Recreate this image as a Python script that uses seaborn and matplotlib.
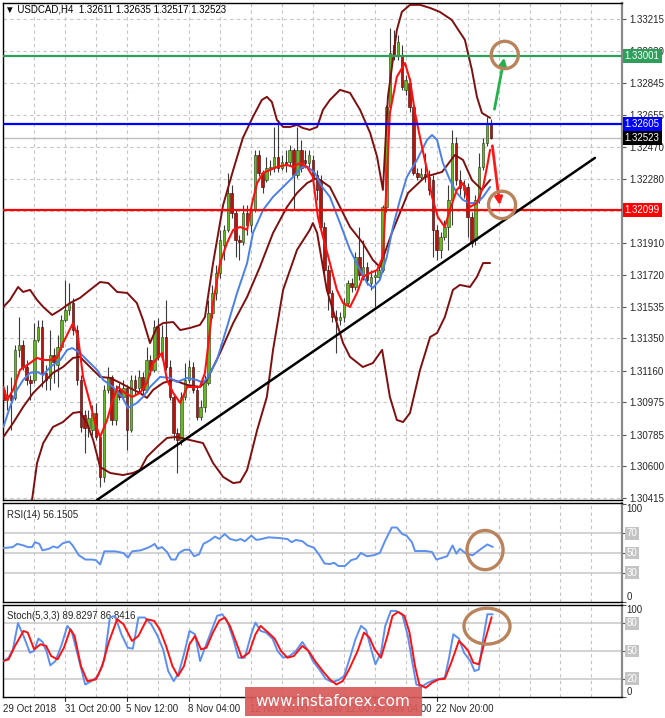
import numpy as np
import matplotlib
matplotlib.use("Agg")
import matplotlib.pyplot as plt
import seaborn as sns
from matplotlib.patches import Ellipse, Rectangle

sns.set_style("white")
plt.rcParams['font.family'] = ['Liberation Sans', 'DejaVu Sans']

# ---------------- data: USDCAD H4 candles ----------------
bar_open = [1.31048, 1.30989, 1.31018, 1.31001, 1.31282, 1.31311, 1.31182, 1.31106, 1.31106, 1.31340,
            1.31416, 1.31147, 1.31118, 1.31252, 1.31194, 1.31299, 1.31457, 1.31515, 1.31556, 1.31398,
            1.31106, 1.30901, 1.30825, 1.30814, 1.30913, 1.30773, 1.30539, 1.31048, 1.31124, 1.30872,
            1.31048, 1.31007, 1.31059, 1.30814, 1.31106, 1.31059, 1.31124, 1.31048, 1.31223, 1.31165,
            1.31416, 1.31241, 1.31357, 1.31182, 1.31007, 1.30796, 1.30755, 1.31007, 1.31106, 1.31182,
            1.31048, 1.30890, 1.30948, 1.31089, 1.31498, 1.31615, 1.31732, 1.31896, 1.31984, 1.32200,
            1.32083, 1.31925, 1.31913, 1.32083, 1.32013, 1.32100, 1.32422, 1.32317, 1.32276, 1.32346,
            1.32346, 1.32411, 1.32346, 1.32381, 1.32381, 1.32452, 1.32305, 1.32452, 1.32393, 1.32376,
            1.32393, 1.32305, 1.32276, 1.32001, 1.31749, 1.31615, 1.31474, 1.31457, 1.31474, 1.31556,
            1.31673, 1.31650, 1.31826, 1.31720, 1.31767, 1.31673, 1.31709, 1.31709, 1.31749, 1.32118,
            1.32703, 1.33066, 1.33007, 1.33007, 1.32803, 1.32843, 1.32703, 1.32317, 1.32294, 1.32311,
            1.32294, 1.32276, 1.31984, 1.31867, 1.31943, 1.32001, 1.32159, 1.32492, 1.32276, 1.32218,
            1.32235, 1.32059, 1.31925, 1.32159, 1.32352, 1.32492, 1.32611]
bar_high = [1.31077, 1.31077, 1.31124, 1.31311, 1.31474, 1.31340, 1.31223, 1.31135, 1.31439, 1.31457,
            1.31457, 1.31194, 1.31398, 1.31293, 1.31369, 1.31486, 1.31691, 1.31673, 1.31586, 1.31428,
            1.31135, 1.30930, 1.30930, 1.30960, 1.30972, 1.30784, 1.31077, 1.31182, 1.31135, 1.31077,
            1.31089, 1.31106, 1.31077, 1.31135, 1.31135, 1.31165, 1.31153, 1.31299, 1.31252, 1.31457,
            1.31469, 1.31428, 1.31574, 1.31223, 1.31018, 1.30825, 1.31036, 1.31205, 1.31223, 1.31211,
            1.31077, 1.30989, 1.31135, 1.31574, 1.31662, 1.31779, 1.31984, 1.32013, 1.32317, 1.32247,
            1.32100, 1.31954, 1.32130, 1.32130, 1.32130, 1.32452, 1.32452, 1.32334, 1.32411, 1.32393,
            1.32586, 1.32627, 1.32422, 1.32452, 1.32481, 1.32463, 1.32586, 1.32510, 1.32452, 1.32452,
            1.32422, 1.32334, 1.32305, 1.32030, 1.31779, 1.31633, 1.31515, 1.31504, 1.31586, 1.31691,
            1.31703, 1.31855, 1.32001, 1.31925, 1.31796, 1.31749, 1.31749, 1.31779, 1.32130, 1.32715,
            1.33165, 1.33153, 1.33124, 1.33066, 1.32890, 1.32873, 1.32715, 1.32346, 1.32346, 1.32434,
            1.32334, 1.32305, 1.32013, 1.31972, 1.32042, 1.32247, 1.32569, 1.32527, 1.32334, 1.32276,
            1.32258, 1.32089, 1.32188, 1.32434, 1.32522, 1.32645, 1.32635]
bar_low = [1.30930, 1.30930, 1.30814, 1.30989, 1.31241, 1.31165, 1.31077, 1.30989, 1.31089, 1.31328,
           1.31065, 1.31048, 1.31048, 1.31089, 1.31065, 1.31282, 1.31445, 1.31486, 1.31369, 1.31077,
           1.30802, 1.30679, 1.30773, 1.30784, 1.30755, 1.30480, 1.30509, 1.31030, 1.30843, 1.30843,
           1.30989, 1.30989, 1.30697, 1.30802, 1.31018, 1.31036, 1.31018, 1.31036, 1.31135, 1.31153,
           1.31223, 1.31223, 1.31165, 1.30989, 1.30755, 1.30562, 1.30726, 1.30989, 1.31089, 1.31030,
           1.30872, 1.30872, 1.30919, 1.31077, 1.31469, 1.31574, 1.31703, 1.31808, 1.31972, 1.32054,
           1.31826, 1.31808, 1.31896, 1.31954, 1.31972, 1.32089, 1.32299, 1.32200, 1.32264, 1.32305,
           1.32323, 1.32323, 1.32334, 1.32323, 1.32364, 1.32100, 1.32288, 1.32323, 1.32346, 1.32334,
           1.32264, 1.32159, 1.31972, 1.31720, 1.31515, 1.31445, 1.31264, 1.31428, 1.31445, 1.31545,
           1.31621, 1.31633, 1.31691, 1.31691, 1.31662, 1.31633, 1.31533, 1.31691, 1.31738, 1.32089,
           1.32686, 1.32978, 1.32978, 1.32803, 1.32773, 1.32674, 1.32305, 1.32276, 1.32276, 1.32264,
           1.32188, 1.31826, 1.31808, 1.31820, 1.31925, 1.31867, 1.32013, 1.32247, 1.32188, 1.32171,
           1.31943, 1.31884, 1.31896, 1.32141, 1.32334, 1.32475, 1.32517]
bar_close = [1.30989, 1.31018, 1.30989, 1.31282, 1.31311, 1.31182, 1.31106, 1.31089, 1.31340, 1.31416,
             1.31147, 1.31106, 1.31252, 1.31211, 1.31299, 1.31457, 1.31515, 1.31556, 1.31398, 1.31106,
             1.30831, 1.30825, 1.30884, 1.30913, 1.30773, 1.30539, 1.31048, 1.31124, 1.30872, 1.31048,
             1.31007, 1.31059, 1.30814, 1.31106, 1.31059, 1.31124, 1.31048, 1.31223, 1.31165, 1.31416,
             1.31241, 1.31357, 1.31182, 1.31007, 1.30796, 1.30755, 1.31007, 1.31106, 1.31182, 1.31048,
             1.30890, 1.30948, 1.31106, 1.31498, 1.31615, 1.31732, 1.31925, 1.31984, 1.32200, 1.32083,
             1.31925, 1.31913, 1.32083, 1.32013, 1.32100, 1.32422, 1.32317, 1.32235, 1.32346, 1.32346,
             1.32411, 1.32346, 1.32381, 1.32364, 1.32452, 1.32305, 1.32452, 1.32346, 1.32376, 1.32422,
             1.32288, 1.32218, 1.32001, 1.31749, 1.31615, 1.31474, 1.31457, 1.31474, 1.31556, 1.31673,
             1.31650, 1.31826, 1.31720, 1.31767, 1.31691, 1.31709, 1.31720, 1.31749, 1.32118, 1.32703,
             1.33019, 1.33007, 1.33083, 1.32820, 1.32861, 1.32703, 1.32317, 1.32294, 1.32311, 1.32294,
             1.32218, 1.31984, 1.31867, 1.31943, 1.32001, 1.32159, 1.32492, 1.32276, 1.32229, 1.32247,
             1.32059, 1.31907, 1.32159, 1.32352, 1.32492, 1.32609, 1.32523]

# fast MA (red)
ma_fast_bar = [0, 1, 2.5, 4.3, 6.9, 8.7, 10.3, 12.1, 13.9, 15.4, 18.0, 19.3, 20.6, 22.4, 23.7, 25.0, 26.8,
               28.3, 29.6, 31.4, 33.3, 35.3, 37.1, 38.7, 41.0, 42.3, 43.9, 45.7, 47.5, 49.0, 50.8, 52.1,
               54.2, 56.0, 57.8, 59.4, 61.2, 63.0, 64.3, 65.6, 67.1, 68.9, 70.7, 73.3, 74.9, 76.7, 78.5,
               80.0, 81.3, 82.6, 84.4, 86.2, 87.8, 89.6, 91.4, 92.9, 94.8, 96.6, 98.1, 99.1, 99.9, 101.7,
               103.8, 105.1, 106.4, 108.2, 109.5, 110.8, 112.3, 114.1, 115.4, 117.2, 118.8, 119.8, 120.6,
               122.4, 124.0, 125.0, 125.8]
ma_fast = [1.31065, 1.30989, 1.31048, 1.31165, 1.31205, 1.31235, 1.31223, 1.31223, 1.31235, 1.31322,
           1.31439, 1.31357, 1.31124, 1.30972, 1.30854, 1.30773, 1.30872, 1.30989, 1.31065, 1.31030,
           1.31007, 1.31030, 1.31089, 1.31205, 1.31264, 1.31106, 1.31030, 1.30972, 1.31065, 1.31065,
           1.31065, 1.31147, 1.31556, 1.31790, 1.31907, 1.31984, 1.32001, 1.31984, 1.32141, 1.32258,
           1.32317, 1.32334, 1.32352, 1.32364, 1.32352, 1.32376, 1.32352, 1.32294, 1.32059, 1.31943,
           1.31790, 1.31633, 1.31556, 1.31533, 1.31615, 1.31709, 1.31732, 1.31749, 1.31826, 1.32276,
           1.32668, 1.32879, 1.32960, 1.32861, 1.32668, 1.32469, 1.32334, 1.32177, 1.32059, 1.32001,
           1.32100, 1.32218, 1.32258, 1.32177, 1.32118, 1.32141, 1.32235, 1.32352, 1.32452]

# slow MA (blue)
ma_slow_bar = [0, 1.7, 3.5, 5.1, 6.9, 8.7, 10.3, 12.1, 14.7, 16.5, 17.8, 19.8, 21.6, 24.2, 25.8, 28.3,
               30.7, 32.2, 34.5, 36.1, 37.9, 40.5, 43.1, 44.9, 47.5, 50.0, 51.6, 52.9, 55.2, 57.8, 60.4,
               63.0, 64.5, 67.1, 69.7, 72.3, 74.9, 77.2, 78.7, 80.5, 82.4, 84.4, 87.0, 89.6, 92.2, 94.0,
               95.5, 97.3, 99.1, 100.7, 102.5, 104.3, 106.9, 109.5, 110.8, 112.1, 113.6, 115.4, 117.2,
               118.8, 120.6, 122.4, 124.0, 125.8]
ma_slow = [1.30831, 1.30948, 1.31048, 1.31106, 1.31147, 1.31153, 1.31135, 1.31182, 1.31223, 1.31282,
           1.31293, 1.31264, 1.31223, 1.31165, 1.31106, 1.31065, 1.31007, 1.30942, 1.30972, 1.31007,
           1.31065, 1.31124, 1.31118, 1.31094, 1.31118, 1.31106, 1.31089, 1.31124, 1.31223, 1.31416,
           1.31615, 1.31790, 1.31966, 1.32100, 1.32177, 1.32235, 1.32294, 1.32352, 1.32352, 1.32317,
           1.32235, 1.32177, 1.32024, 1.31867, 1.31749, 1.31673, 1.31644, 1.31691, 1.31826, 1.32001,
           1.32159, 1.32294, 1.32393, 1.32510, 1.32539, 1.32510, 1.32376, 1.32276, 1.32200, 1.32159,
           1.32141, 1.32141, 1.32177, 1.32235]

# Bollinger bands (dark red)
bb_up_bar = [0, 1.7, 3.8, 5.1, 6.9, 8.7, 10.3, 12.6, 14.7, 17.2, 19.8, 22.4, 25.0, 27.1, 29.4, 32.0,
             34.5, 36.1, 37.9, 39.7, 41.3, 43.9, 45.7, 48.2, 50.8, 52.1, 54.2, 56.8, 59.4, 61.9, 64.5,
             66.8, 68.1, 69.4, 70.7, 72.3, 74.1, 75.9, 77.4, 79.2, 81.1, 82.6, 84.4, 87.0, 89.6, 92.2,
             94.8, 96.6, 98.1, 99.4, 101.7, 103.0, 105.1, 107.7, 110.3, 112.8, 115.9, 119.3, 121.1,
             122.4, 123.7, 125.8]
bb_up = [1.31533, 1.31574, 1.31650, 1.31621, 1.31633, 1.31574, 1.31533, 1.31486, 1.31515, 1.31556,
         1.31586, 1.31633, 1.31679, 1.31673, 1.31621, 1.31615, 1.31556, 1.31457, 1.31322, 1.31416,
         1.31439, 1.31445, 1.31398, 1.31410, 1.31428, 1.31474, 1.31790, 1.32130, 1.32334, 1.32522,
         1.32645, 1.32744, 1.32762, 1.32732, 1.32627, 1.32586, 1.32586, 1.32598, 1.32580, 1.32569,
         1.32586, 1.32686, 1.32744, 1.32803, 1.32785, 1.32686, 1.32551, 1.32411, 1.32218, 1.32762,
         1.33153, 1.33259, 1.33300, 1.33300, 1.33282, 1.33259, 1.33212, 1.33095, 1.32920, 1.32762,
         1.32668, 1.32639]
bb_mid_bar = [0, 2.5, 5.1, 7.7, 10.3, 12.8, 15.4, 18.0, 19.8, 22.4, 25.0, 27.6, 30.2, 32.7, 35.3, 37.1,
              38.7, 41.3, 43.9, 47.5, 50.8, 52.6, 56.0, 59.4, 63.0, 66.3, 69.7, 73.3, 75.9, 78.5, 81.1,
              84.4, 87.0, 89.6, 92.9, 95.5, 97.3, 100.4, 104.6, 109.0, 113.4, 116.7, 118.8, 121.1,
              123.7, 125.8]
bb_mid = [1.30773, 1.30854, 1.30948, 1.31030, 1.31089, 1.31147, 1.31182, 1.31235, 1.31241, 1.31182,
          1.31124, 1.31118, 1.31089, 1.31059, 1.31030, 1.31001, 1.31048, 1.31089, 1.31106, 1.31077,
          1.31065, 1.31106, 1.31264, 1.31439, 1.31592, 1.31767, 1.31966, 1.32118, 1.32200, 1.32258,
          1.32288, 1.32235, 1.32118, 1.32001, 1.31907, 1.31808, 1.31767, 1.31966, 1.32200, 1.32294,
          1.32323, 1.32422, 1.32393, 1.32276, 1.32218, 1.32276]
bb_low_bar = [6.1, 7.4, 8.7, 10.3, 12.8, 15.4, 18.0, 19.8, 21.6, 23.2, 25.0, 27.6, 30.9, 33.5, 35.3,
              37.1, 39.7, 42.3, 44.9, 48.2, 51.6, 54.2, 56.8, 59.4, 61.2, 63.0, 65.6, 68.1, 69.7, 72.3,
              75.9, 79.2, 80.0, 81.1, 83.6, 86.2, 87.8, 89.6, 92.9, 95.5, 97.9, 99.9, 101.7, 103.3,
              105.1, 107.7, 110.3, 112.1, 114.1, 116.2, 118.0, 120.6, 122.4, 124.0, 125.8]
bb_low = [1.30229, 1.30404, 1.30620, 1.30737, 1.30831, 1.30860, 1.30913, 1.30919, 1.30854, 1.30755,
          1.30597, 1.30562, 1.30550, 1.30562, 1.30580, 1.30656, 1.30714, 1.30767, 1.30773, 1.30755,
          1.30737, 1.30620, 1.30539, 1.30503, 1.30509, 1.30580, 1.30814, 1.31007, 1.31282, 1.31633,
          1.31867, 1.31984, 1.32024, 1.31966, 1.31633, 1.31439, 1.31322, 1.31241, 1.31182, 1.31205,
          1.31282, 1.31007, 1.30872, 1.30860, 1.30913, 1.31165, 1.31357, 1.31381, 1.31474, 1.31633,
          1.31662, 1.31650, 1.31709, 1.31790, 1.31790]

# horizontal levels
level_resist = 1.33001
level_mid = 1.32605
level_support = 1.32099
last_price = 1.32523
trend_bar = [24.2, 152.9]
trend_price = [1.30404, 1.32405]

# RSI(14)
rsi_bar = [0, 2.45, 3.55, 5.2, 6.3, 7.4, 8.2, 9.3, 10.1, 11.8, 12.9, 14.0, 15.4, 17.0, 17.9, 19.5, 21.2,
           22.8, 23.9, 25.0, 26.1, 28.9, 31.0, 32.2, 33.3, 35.5, 37.1, 38.2, 39.1, 39.9, 41.0, 42.3,
           43.4, 44.5, 45.4, 46.8, 48.1, 49.3, 50.6, 51.7, 53.3, 54.7, 55.8, 57.2, 58.6, 60.2, 61.3,
           62.4, 64.1, 65.4, 66.8, 68.5, 71.2, 73.4, 74.5, 75.6, 77.3, 78.6, 80.3, 81.7, 83.0, 84.4,
           85.5, 86.6, 88.3, 89.9, 91.3, 92.4, 94.0, 95.7, 97.3, 98.7, 100.4, 101.7, 103.1, 104.2,
           105.6, 106.4, 109.2, 110.8, 111.9, 113.6, 114.7, 116.1, 117.1, 118.0, 119.6, 121.3, 123.5,
           125.1, 126.5]
rsi_val = [55, 56, 59.3, 57.7, 56, 56, 61, 59.3, 52.7, 54.3, 56.7, 55.3, 60, 61.7, 57.7, 47.7, 43.3,
           43.3, 42.7, 38.3, 51.7, 51.7, 50, 45.3, 51.7, 52.7, 55, 57, 59.3, 54.3, 56, 51, 43.3, 43.3,
           50, 53.3, 53.3, 46.7, 48.7, 59.3, 62.7, 66.7, 64.3, 69.3, 64.3, 62.7, 64.3, 62, 67.7, 63.3,
           64.3, 66, 65.3, 64.3, 61, 63.3, 62, 57.7, 55.3, 47.7, 39.3, 38.7, 40, 36.7, 36.7, 42.7,
           44.3, 50, 46.7, 47.7, 50, 62.7, 76, 76, 69.3, 67.7, 61, 52, 52, 51, 43.3, 45.3, 46.7, 57.7,
           49.3, 54.3, 49.3, 47.7, 54.3, 58.7, 56.2]

# Stochastic(5,3,3)
stk_bar = [0, 1.35, 2.45, 3.77, 5.2, 6.85, 7.95, 9.05, 10.15, 11.25, 12.13, 13.45, 15.1, 16.53, 17.63,
           19.5, 21.15, 22.8, 24.45, 26.1, 27.53, 28.85, 30.5, 32.15, 33.47, 34.9, 36.55, 38.2, 39.85,
           41.28, 42.6, 44.03, 45.35, 46.78, 48.1, 49.53, 50.85, 51.95, 53.6, 55.25, 56.58, 58.0,
           59.44, 60.76, 62.4, 64.06, 65.16, 66.48, 67.9, 69.56, 70.88, 72.3, 73.96, 75.6, 77.26,
           78.58, 80.0, 81.66, 83.3, 84.96, 86.6, 88.04, 89.58, 91.0, 92.44, 93.76, 95.08, 96.18,
           97.6, 98.7, 100.14, 101.46, 103.1, 104.54, 105.64, 106.74, 108.06, 109.7, 111.36, 114.1,
           115.2, 116.3, 117.74, 119.06, 120.7, 121.8, 122.9, 124.0, 125.1, 126.5]
stk_main = [39.1, 42.7, 51.8, 80.2, 66.4, 48.2, 50, 63.5, 59.8, 48.2, 34.4, 39.1, 57.3, 77.3, 71.8,
            40.9, 13.6, 17.3, 22.7, 40.9, 86.4, 88.2, 68.2, 53.6, 52.5, 86.4, 86.4, 79.1, 66.4, 51.8,
            28.2, 17.3, 26.4, 48.2, 71.8, 68.2, 39.1, 51.8, 70, 88.2, 90, 80.9, 62.7, 42.7, 42.7,
            68.2, 80.9, 71.8, 70, 63.5, 50, 42.7, 44.5, 50, 59.8, 51.8, 39.1, 30, 19.8, 16.2, 18.4,
            22.7, 42.7, 62.7, 77.3, 72.7, 51.8, 35.5, 48.2, 77.3, 93.6, 93.6, 90, 66.4, 39.1, 13.6,
            11.1, 15.5, 18.4, 20.9, 42.7, 68.2, 63.5, 48.2, 39.1, 28.2, 30, 62.7, 90, 89.8]
sts_bar = [0, 1.35, 3.0, 5.2, 6.3, 7.95, 9.6, 11.03, 12.35, 14.0, 15.65, 17.3, 18.4, 20.05, 21.7, 23.9,
           25.55, 27.2, 29.4, 31.05, 33.25, 34.9, 37.1, 38.97, 40.4, 42.05, 43.7, 45.13, 46.68, 48.1,
           49.53, 51.08, 52.5, 54.15, 55.8, 57.24, 58.55, 60.2, 61.64, 63.5, 65.16, 66.48, 68.46,
           70.1, 71.76, 73.4, 75.06, 77.26, 78.9, 80.56, 82.76, 84.4, 86.06, 87.7, 89.36, 91.56,
           93.2, 94.64, 95.96, 97.6, 99.26, 100.58, 102.0, 103.66, 104.98, 106.4, 107.5, 109.16,
           110.8, 112.46, 114.1, 115.76, 117.74, 119.06, 120.16, 121.48, 122.9, 124.56, 126.2]
stk_signal = [39.1, 40.9, 55.5, 71.8, 70, 51.8, 57.3, 55.5, 44.5, 40.9, 53.6, 73.6, 66.4, 33.6, 17.3,
              19.1, 33.6, 59.1, 84.5, 79.1, 60.9, 66.4, 84.5, 82.7, 73.6, 55.5, 33.6, 22.7, 33.6,
              57.3, 66.4, 51.8, 53.6, 70, 83.1, 86.4, 77.3, 59.1, 42.7, 48.2, 68.2, 77.3, 70, 63.5,
              50, 42.7, 44.5, 55.5, 50, 39.1, 27.1, 19.1, 13.6, 17.3, 30, 50, 70, 64.5, 51.8, 42.7,
              66.4, 88.2, 92.5, 88.2, 70, 33.6, 13.6, 10, 15.5, 19.1, 19.8, 37.3, 60.9, 55.5, 50,
              37.3, 35.5, 62.7, 86.8]

price_ticks = [1.33215, 1.33030, 1.32845, 1.32655, 1.32470, 1.32280, 1.32095, 1.31910, 1.31720,
               1.31535, 1.31350, 1.31160, 1.30975, 1.30785, 1.30600, 1.30415]
date_bars = [0, 16, 32, 48, 64, 80, 96, 112]
date_labels = ["29 Oct 2018", "31 Oct 20:00", "5 Nov 12:00", "8 Nov 04:00", "12 Nov 20:00",
               "15 Nov 12:00", "20 Nov 04:00", "22 Nov 20:00"]

# hand-drawn annotations (bar index, price / indicator value)
arrow_up = [(126.8, 1.32674), (129.6, 1.33007)]
arrow_down = [(126.3, 1.32492), (128.4, 1.32112)]
circles_price = [(129.6, 1.33007), (128.9, 1.32130)]

# ---------------- figure ----------------
W, H = 665, 718
fig = plt.figure(figsize=(W / 100, H / 100), dpi=100, facecolor='white')


def rect(x0, y0, x1, y1):
    return [x0 / W, 1 - y1 / H, (x1 - x0) / W, (y1 - y0) / H]


ax1 = fig.add_axes(rect(3, 3, 622, 500))
ax2 = fig.add_axes(rect(3, 503, 622, 602), sharex=ax1)
ax3 = fig.add_axes(rect(3, 605, 622, 697), sharex=ax1)

XMIN, XMAX = -0.1, 159.9
GRID = dict(color='#c4c4c4', lw=0.8, ls=(0, (3, 3)), zorder=0)
FS = 7.0
brown = '#b9835c'

for ax in (ax1, ax2, ax3):
    ax.set_facecolor('white')
    for s in ax.spines.values():
        s.set_color('black')
        s.set_linewidth(1.0)
    ax.spines['right'].set_color('#8a8a8a')
    ax.spines['right'].set_linewidth(1.6)
    for k in range(8, 160, 8):
        ax.axvline(k, **GRID)
    ax.yaxis.tick_right()
    ax.tick_params(axis='y', length=3, width=0.8, color='#555555', labelsize=FS, pad=2)
    ax.tick_params(axis='x', length=0, labelbottom=False)

ax1.set_xlim(XMIN, XMAX)

# ---- price panel ----
ax1.set_ylim(1.30404, 1.33311)
for t in price_ticks:
    ax1.axhline(t, **GRID)
ax1.set_yticks(price_ticks)
# the 1.32095 label is completely covered by the support-level box in the reference
ax1.set_yticklabels(["" if abs(t - level_support) < 0.0001 else f"{t:.5f}" for t in price_ticks])

o = np.array(bar_open)
hh = np.array(bar_high)
ll = np.array(bar_low)
c = np.array(bar_close)
idx = np.arange(len(c))
up = c >= o
ax1.vlines(idx, ll, hh, color='#3a3a3a', lw=0.8, zorder=2)
ax1.bar(idx[up], np.maximum(c - o, 0.00003)[up], bottom=o[up], width=0.64,
        color='#66b820', edgecolor='#203a10', lw=0.4, zorder=3)
ax1.bar(idx[~up], np.maximum(o - c, 0.00003)[~up], bottom=c[~up], width=0.64,
        color='#b8140c', edgecolor='#3a0000', lw=0.4, zorder=3)

sns.lineplot(x=bb_up_bar, y=bb_up, ax=ax1, color='#7f0f0f', lw=1.4, estimator=None, sort=False, zorder=4)
sns.lineplot(x=bb_mid_bar, y=bb_mid, ax=ax1, color='#7f0f0f', lw=1.4, estimator=None, sort=False, zorder=4)
sns.lineplot(x=bb_low_bar, y=bb_low, ax=ax1, color='#7f0f0f', lw=1.4, estimator=None, sort=False, zorder=4)
sns.lineplot(x=ma_slow_bar, y=ma_slow, ax=ax1, color='#4a7fe8', lw=1.4, estimator=None, sort=False, zorder=5)
sns.lineplot(x=ma_fast_bar, y=ma_fast, ax=ax1, color='#ff1010', lw=1.5, estimator=None, sort=False, zorder=6)

ax1.axhline(last_price, color='#bdbdbd', lw=1.0, zorder=1)
ax1.axhline(level_resist, color='#2e9e5b', lw=1.6, zorder=6)
ax1.axhline(level_mid, color='#0000ff', lw=1.6, zorder=6)
ax1.axhline(level_support, color='#ff0000', lw=1.6, zorder=6)
sns.lineplot(x=trend_bar, y=trend_price, ax=ax1, color='black', lw=1.8, estimator=None, sort=False, zorder=7)

ax1.annotate('', xy=arrow_up[1], xytext=arrow_up[0],
             arrowprops=dict(arrowstyle='-|>', color='#22b14c', lw=2.0, mutation_scale=11), zorder=8)
ax1.annotate('', xy=arrow_down[1], xytext=arrow_down[0],
             arrowprops=dict(arrowstyle='-|>', color='#ff1a1a', lw=2.0, mutation_scale=11), zorder=8)
for (cx, cy) in circles_price:
    ax1.add_patch(Ellipse((cx, cy), 7.0, 0.00160, fill=False, ec=brown, lw=2.4, zorder=9))

for val, col in [(level_resist, '#2e9e5b'), (level_mid, '#0000ff'),
                 (last_price, '#000000'), (level_support, '#ff0000')]:
    ax1.text(1.0045, val, f"{val:.5f}", transform=ax1.get_yaxis_transform(), fontsize=FS,
             color='white', va='center', ha='left', clip_on=False, zorder=10,
             bbox=dict(boxstyle='square,pad=0.2', fc=col, ec='none'))

fig.text(5 / W, 1 - 10 / H, "\u25BC USDCAD,H4  1.32611 1.32635 1.32517 1.32523",
         fontsize=FS, va='center', ha='left', color='black')

# ---- RSI panel ----
ax2.set_ylim(1.5, 101)
for lv in (70, 50, 30):
    ax2.axhline(lv, color='#c8c8c8', lw=1.1, zorder=1)
sns.lineplot(x=rsi_bar, y=rsi_val, ax=ax2, color='#5b8ff0', lw=1.4, estimator=None, sort=False, zorder=4)
ax2.set_yticks([100, 70, 50, 30, 0])
ax2.set_yticklabels([])
ax2.add_patch(Ellipse((124.5, 53), 9.3, 40, fill=False, ec=brown, lw=2.4, zorder=9))
ax2.text(0.007, 0.93, "RSI(14) 56.1505", transform=ax2.transAxes, fontsize=FS, va='top', ha='left')

# ---- Stochastic panel ----
ax3.set_ylim(0, 100)
for lv in (80, 50, 20):
    ax3.axhline(lv, color='#c8c8c8', lw=1.1, zorder=1)
sns.lineplot(x=stk_bar, y=stk_main, ax=ax3, color='#5b8ff0', lw=1.4, estimator=None, sort=False, zorder=4)
sns.lineplot(x=sts_bar, y=stk_signal, ax=ax3, color='#ff1010', lw=1.4, estimator=None, sort=False, zorder=5)
ax3.set_yticks([100, 80, 50, 20, 0])
ax3.set_yticklabels([])
ax3.add_patch(Ellipse((125.0, 77), 11.9, 39, fill=False, ec=brown, lw=2.4, zorder=9))
ax3.text(0.007, 0.93, "Stoch(5,3,3) 89.8297 86.8416", transform=ax3.transAxes, fontsize=FS,
         va='top', ha='left')

# right-side scale labels of the indicator panels
for ax, levels in ((ax2, (70, 50, 30)), (ax3, (80, 50, 20))):
    tr = ax.get_yaxis_transform()
    ax.text(1.0075, 100, "100", transform=tr, fontsize=FS, va='top', ha='left', clip_on=False)
    ax.text(1.0075, ax.get_ylim()[0], "0", transform=tr, fontsize=FS, va='bottom', ha='left', clip_on=False)
    for lv in levels:
        ax.text(1.0075, lv, str(lv), transform=tr, fontsize=FS, va='center', ha='left', color='white',
                clip_on=False, bbox=dict(boxstyle='square,pad=0.12', fc='#c4c4c4', ec='none'))

# date axis
tr = ax3.get_xaxis_transform()
for b, lab in zip(date_bars, date_labels):
    if b > 0:
        ax3.plot([b, b], [0, -0.04], transform=tr, color='#333333', lw=0.8, clip_on=False)
    ax3.text(b - 0.2, -0.08, lab, transform=tr, fontsize=FS, va='top', ha='left', clip_on=False)

# watermark
fig.patches.append(Rectangle((245 / W, 1 - 716 / H), 177 / W, 29 / H, transform=fig.transFigure,
                             fc='#d85a5a', ec='none', alpha=0.92, zorder=20))
fig.text(333 / W, 1 - 701.5 / H, "www.instaforex.com", color='white', fontsize=11,
         family='DejaVu Sans', ha='center', va='center', zorder=21)

fig.savefig("out.png", dpi=100, facecolor='white')
